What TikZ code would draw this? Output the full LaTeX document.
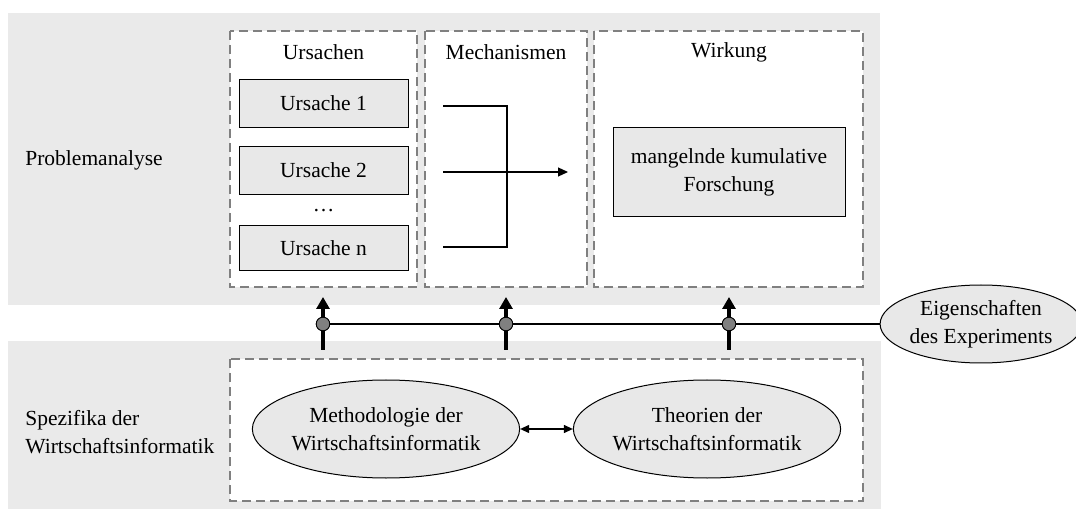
\documentclass[tikz,border=0pt]{standalone}
\usepackage{fontspec}
\setmainfont{Liberation Serif}
\usetikzlibrary{shapes.geometric,arrows.meta}
\definecolor{flaechengrau}{HTML}{EAEAEA}
\definecolor{kastengrau}{HTML}{E8E8E8}
\definecolor{rahmengrau}{HTML}{808080}
\tikzset{every picture/.style={/utils/exec={\fontsize{21.5}{28}\selectfont}}}

\begin{document}
\begin{tikzpicture}[x=1pt,y=-1pt,
		rahmen/.style={draw=rahmengrau, line width=2pt, dash pattern=on 9pt off 5pt},
		kasten/.style={draw, line width=1pt, fill=kastengrau, minimum width=169pt, minimum height=48pt, inner sep=0pt},
		oval/.style={ellipse, draw, line width=1pt, fill=kastengrau, align=center, inner sep=0pt},
		knoten/.style={circle, draw, line width=0.8pt, fill=rahmengrau, minimum size=13.5pt, inner sep=0pt},
		pfeil/.style={line width=4pt, -{Triangle[length=12pt,width=13pt]}}]
		\useasboundingbox (0,0) rectangle (1076,510);
		% Flaechen
		\fill[flaechengrau] (8,13) rectangle (880,305);
		\fill[flaechengrau] (8,341) rectangle (881,509);
		
		% Problemanalyse
		\node[anchor=west] (problem) at (18,160) {Problemanalyse};
		\draw[rahmen, fill=white] (230,31) rectangle (417,287);
		\draw[rahmen, fill=white] (425,31) rectangle (587,287);
		\draw[rahmen, fill=white] (594,31) rectangle (863,287);
		\node (ursachen) at (323.5,52) {Ursachen};
		\node (mechanismen) at (506,52) {Mechanismen};
		\node (wirkung) at (729,52) {Wirkung};
		
		\node[kasten] (ursache1) at (323.5,103.5) {Ursache 1};
		\node[kasten] (ursache2) at (323.5,170.5) {Ursache 2};
		\node (punkte) at (323.5,211) {\ldots};
		\node[kasten, minimum height=45pt] (ursacheN) at (323.5,248.5) {Ursache n};
		
		\node[kasten, minimum width=232pt, minimum height=89pt, align=center] (forschung) at (729,172.5) {mangelnde kumulative\\Forschung};
		
		% Mechanismen
		\coordinate (m1) at (443,106);
		\coordinate (m2) at (443,172);
		\coordinate (m3) at (443,247);
		\coordinate (mende) at (568,172);
		\draw[line width=1.2pt] (m1) -- (507,106) -- (507,247) -- (m3);
		\draw[line width=1.2pt, -{Triangle[length=10pt,width=9pt]}] (m2) -- (mende);
		
		% Spezifika
		\node[anchor=west, align=left] (spezifika) at (18,432) {Spezifika der\\Wirtschaftsinformatik};
		\draw[rahmen, fill=white] (230,359) rectangle (863,501);
		\node[oval, minimum width=232pt, minimum height=98pt] (methodologie) at (386,429) {Methodologie der\\Wirtschaftsinformatik};
		\node[oval, minimum width=232pt, minimum height=98pt] (theorien) at (707,429) {Theorien der\\Wirtschaftsinformatik};
		\draw[line width=1.2pt, {Triangle[length=9pt,width=8pt]}-{Triangle[length=9pt,width=8pt]}] (methodologie) -- (theorien);
		
		% Eigenschaften
		\node[oval, minimum width=190pt, minimum height=78pt] (experiment) at (981,324) {Eigenschaften\\des Experiments};
		\node[knoten] (k1) at (323,324) {};
		\node[knoten] (k2) at (506,324) {};
		\node[knoten] (k3) at (729,324) {};
		\draw[line width=1.2pt] (k1) -- (k2) -- (k3) -- (experiment);
		
		\draw[pfeil] (323,350) -- (k1) -- (323,297);
		\draw[pfeil] (506,350) -- (k2) -- (506,297);
		\draw[pfeil] (729,350) -- (k3) -- (729,297);
		\node[knoten] at (k1) {};
		\node[knoten] at (k2) {};
		\node[knoten] at (k3) {};
	\end{tikzpicture}
\end{document}
